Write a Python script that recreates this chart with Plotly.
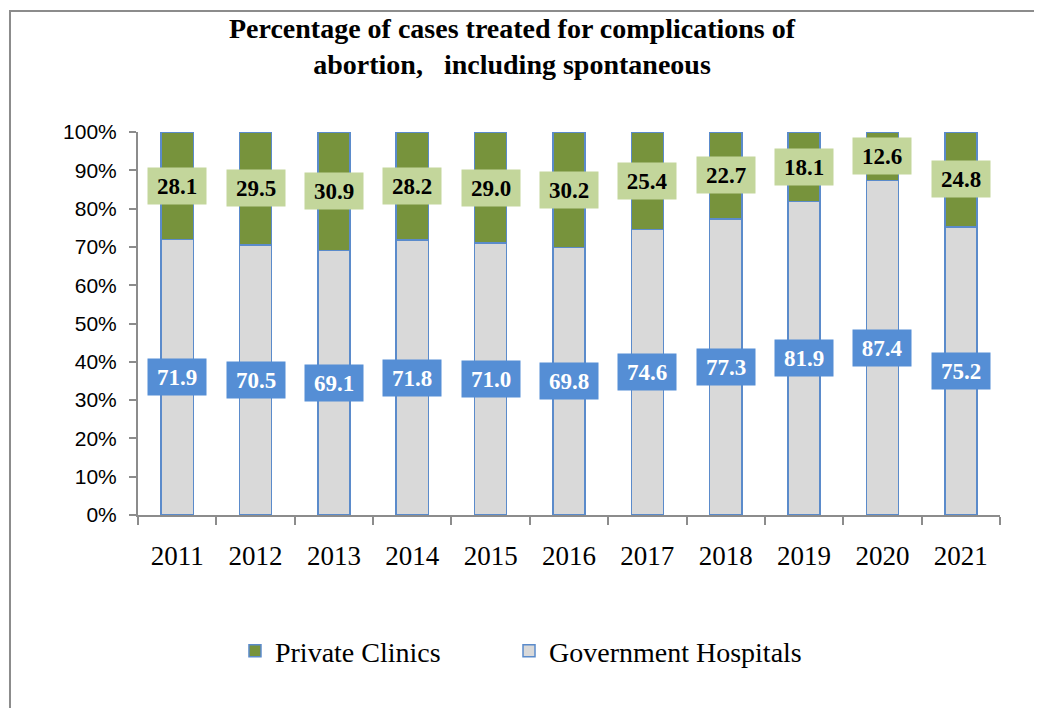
import plotly.graph_objects as go

years = ["2011", "2012", "2013", "2014", "2015", "2016", "2017", "2018", "2019", "2020", "2021"]
government = [71.9, 70.5, 69.1, 71.8, 71.0, 69.8, 74.6, 77.3, 81.9, 87.4, 75.2]
private = [28.1, 29.5, 30.9, 28.2, 29.0, 30.2, 25.4, 22.7, 18.1, 12.6, 24.8]
y_ticks = [0, 10, 20, 30, 40, 50, 60, 70, 80, 90, 100]
y_tick_labels = ["0%", "10%", "20%", "30%", "40%", "50%", "60%", "70%", "80%", "90%", "100%"]

fig = go.Figure()

fig.add_trace(
    go.Bar(
        x=years,
        y=government,
        name="Government Hospitals",
        marker=dict(color="#D9D9D9", line=dict(color="#5B8BCB", width=1.5)),
        width=0.41,
        legend="legend2",
    )
)

fig.add_trace(
    go.Bar(
        x=years,
        y=private,
        name="Private Clinics",
        marker=dict(color="#77933C", line=dict(color="#5B8BCB", width=1.5)),
        width=0.41,
        legend="legend",
    )
)

# value boxes in the middle of each segment (x = category index)
for i, (g, p) in enumerate(zip(government, private)):
    fig.add_annotation(
        x=i, y=g / 2, text="<b>%.1f</b>" % g, showarrow=False,
        font=dict(family="Liberation Serif", size=23, color="white"),
        bgcolor="#558ED5", width=56, height=34,
    )
    fig.add_annotation(
        x=i, y=g + p / 2, text="<b>%.1f</b>" % p, showarrow=False,
        font=dict(family="Liberation Serif", size=23, color="black"),
        bgcolor="#C3D69B", width=56, height=34,
    )

# outer chart border
fig.add_shape(
    type="rect", xref="paper", yref="paper",
    x0=-0.1485, x1=1.2, y0=-0.6, y1=1.3159,
    line=dict(color="#8C8C8C", width=2), fillcolor="rgba(0,0,0,0)",
)

legend_font = dict(family="Liberation Serif", size=28, color="black")

fig.update_layout(
    width=1042,
    height=708,
    barmode="stack",
    plot_bgcolor="white",
    paper_bgcolor="white",
    font=dict(family="Liberation Serif", color="black"),
    margin=dict(l=130, r=50, t=124, b=201),
    title=dict(
        text="<b>Percentage of cases treated for complications of<br>abortion,\u00a0\u00a0 including spontaneous</b>",
        x=0.4837, xanchor="center", y=0.958, yanchor="top",
        font=dict(family="Liberation Serif", size=28, color="black"),
    ),
    legend=dict(
        orientation="h", x=0.1125, xanchor="left", y=-0.355, yanchor="middle",
        font=legend_font,
    ),
    legend2=dict(
        orientation="h", x=0.4304, xanchor="left", y=-0.355, yanchor="middle",
        font=legend_font,
    ),
    showlegend=True,
)

fig.update_xaxes(
    type="category", range=[-0.5, 10.5], tickangle=0,
    showline=True, linecolor="#8C8C8C", linewidth=2,
    ticks="outside", ticklen=8, tickcolor="#8C8C8C", tickwidth=2,
    tickson="boundaries",
    tickfont=dict(family="Liberation Serif", size=27, color="black"),
    ticklabelstandoff=16,
)

fig.update_yaxes(
    range=[0, 100], tickvals=y_ticks, ticktext=y_tick_labels,
    showline=True, linecolor="#8C8C8C", linewidth=2,
    ticks="outside", ticklen=7, tickcolor="#8C8C8C", tickwidth=2,
    showgrid=False, zeroline=False,
    tickfont=dict(family="Liberation Sans", size=21, color="black"),
    ticklabelstandoff=8,
)

fig.write_html("out.html")
